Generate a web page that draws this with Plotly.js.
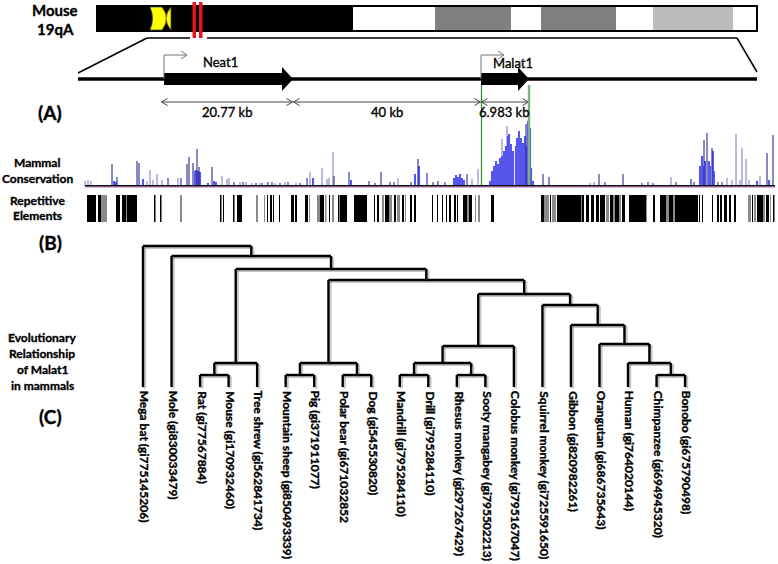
<!DOCTYPE html>
<html><head><meta charset="utf-8">
<script src="https://cdn.plot.ly/plotly-3.0.1.min.js"></script>
<style>html,body{margin:0;padding:0;background:#fff}
.annotation-text{stroke:#000;stroke-width:0.35px;paint-order:stroke}
</style>
</head><body><div id="chart" style="width:778px;height:564px"></div>
<script>
// ---------------- DATA ----------------
// chromosome 19 bands (schematic units)
const bandStart = [97, 353, 435, 511, 541, 616, 653, 733];
const bandEnd   = [353, 435, 511, 541, 616, 653, 733, 757];
const bandStain = ['gpos100','gneg','gpos75','gneg','gpos75','gneg','gpos33','gneg'];

// genes (schematic units)
const geneNames = ['Neat1', 'Malat1'];
const geneStart = [164, 481];
const geneEnd   = [293, 529];

// distances
const distLabels = ['20.77 kb', '40 kb', '6.983 kb'];
const distStart  = [161, 293, 481];
const distEnd    = [293, 481, 529];

// mammal conservation (position, score)
const consLightX = [85,88,91,147,150,153,157,162,178,222,227,229,240,246,252,260,275,285,296,310,322,327,329,333,398,472,478,502,507,590,594,671,727,732,736,740,742,746,749,760];
const consLightH = [5,6,5,5,16,6,12,6,8,10,7,8,4,4,3,3,3,4,3,14,18,7,8,34,8,7,17,47,60,3,4,9,8,6,52,6,38,27,6,10];
const consDarkX = [112,117,137,139,168,181,187,189,193,197,199,212,234,243,256,262,268,272,280,288,300,307,334,349,369,375,381,390,394,411,418,427,433,438,445,467,526,543,549,599,605,623,642,648,653,676,691,694,704,707,712,718,722,767,773];
const consDarkH = [22,9,25,23,8,8,22,29,23,37,19,19,4,4,3,3,4,4,3,4,3,8,10,14,5,3,14,4,4,4,27,13,4,5,4,12,62,12,9,12,4,12,3,4,3,4,7,4,46,53,38,4,4,33,51];
const consFillX = [114,116,143,195,196,198,200,208,214,216,313,351,415,419,454,456,458,460,462,464,490,492,494,496,498,500,502,504,506,508,509,511,513,516,517,519,521,523,525,527,528,530,531,533,700,702,703,705,709,710,713,714,757,769];
const consFillH = [5,4,7,15,16,15,14,3,5,4,8,6,12,20,8,11,9,12,8,6,5,15,20,25,22,28,30,35,40,50,52,42,35,40,48,55,48,43,50,40,65,58,18,5,20,30,20,25,25,20,35,15,5,6];

// repetitive elements
const repBlackStart = [87,98,116,122,127,154,160,220,223,233,237,267,270,273,279,291,295,305,320,329,338,340,354,374,377,385,394,402,410,414,432,437,442,446,449,454,457,463,469,491,541,550,557,581.5,586,591,596,600,610,615,622,629,653,660,669,675,679,699,702,712,717,720,724,729,734,752,757,766,773];
const repBlackEnd   = [96,101,120,126,137,155.5,161.5,221.5,224,234.5,242,268,272,274,280,294,297,308,324,330,339.5,347,367,375,379,389,396,404,412,416,433,438,443,447,451,456,458,467,472,494,544,551,581,584,589,594,599,605,613,619,625,646,655,666,673,679,698,700,703,713,719,722,727,731,736,753,763,769,774.5];
const repGreyStart = [101,126,180,256,264,309,317,325,332,382,389,397,405,467,475,478,544,552,606,613,619,646,666,673,748,754,763,770];
const repGreyEnd   = [107,127,182,258,265,310,320,326.5,334,384,392,400,406,469,476,480,549,556,609,615,621,647,669,675,751,756,765,771];

// phylogeny of Malat1
const speciesNames = ['Mega bat','Mole','Rat','Mouse','Tree shrew','Mountain sheep','Pig','Polar bear','Dog','Mandrill','Drill','Rhesus monkey','Sooty mangabey','Colobus monkey','Squirrel monkey','Gibbon','Orangutan','Human','Chimpanzee','Bonobo'];
const speciesGi = ['(gi775145206)','(gi830033479)','(gi77567884)','(gi170932460)','(gi562841734)','(gi850493339)','(gi371911077)','(gi671032852','(gi545530820)','(gi795284110)','(gi795284110)','(gi297267429)','(gi795502213)','(gi795167047)','(gi725591650)','(gi820982261)','(gi686735643)','(gi764020144)','(gi694945320)','(gi675790498)'];
const tree = {h:141, c:['Mega bat', {h:131, c:['Mole', {h:118, c:[
  {h:24, c:[{h:12, c:['Rat','Mouse']}, 'Tree shrew']},
  {h:107, c:[
    {h:24, c:[{h:12, c:['Mountain sheep','Pig']}, {h:12, c:['Polar bear','Dog']}]},
    {h:93, c:[
      {h:41, c:[{h:24, c:[{h:12, c:['Mandrill','Drill']}, {h:12, c:['Rhesus monkey','Sooty mangabey']}]}, 'Colobus monkey']},
      {h:82, c:['Squirrel monkey', {h:62, c:['Gibbon', {h:43, c:['Orangutan', {h:24, c:['Human', {h:12, c:['Chimpanzee','Bonobo']}]}]}]}]}
    ]}
  ]}
]}]}]};

// ---------------- BUILD ----------------
const W = 778, H = 564;
const FONT = 'Lato, Liberation Sans, Arial, sans-serif';
const stainColor = {gpos100:'#000000', gneg:'#ffffff', gpos75:'#808080', gpos33:'#bcbcbc'};
const dom = (top, bottom) => [1 - bottom / H, 1 - top / H];

const shapes = [];
const ann = [];
function seg(x0,y0,x1,y1,color,width){shapes.push({type:'line',xref:'x',yref:'y',x0,y0,x1,y1,line:{color,width}});}
function txt(x,y,text,size,bold,extra){ann.push(Object.assign({xref:'x',yref:'y',x,y,text:bold?'<b>'+text+'</b>':text,showarrow:false,font:{family:FONT,size,color:'#000'},xanchor:'center',yanchor:'middle'},extra||{}));}

// chromosome bands
bandStart.forEach((s,i)=>{
  shapes.push({type:'rect',xref:'x',yref:'y',x0:s,x1:bandEnd[i],y0:6,y1:31,fillcolor:stainColor[bandStain[i]],line:{width:0}});
});
shapes.push({type:'rect',xref:'x',yref:'y',x0:bandStart[0],x1:bandEnd[bandEnd.length-1],y0:6,y1:31,line:{color:'#000',width:2}});
// centromere
shapes.push({type:'path',xref:'x',yref:'y',path:'M150,7 Q155,18.5 150,30 L162,30 Q171,18.5 162,7 Z',fillcolor:'#ffff00',line:{color:'#444',width:0.8}});
shapes.push({type:'path',xref:'x',yref:'y',path:'M171,7 Q161,18.5 171,30 Z',fillcolor:'#ffff00',line:{color:'#444',width:0.8}});
// zoom lines
seg(78,73,147,38,'#000',1.5); seg(147,38,190,38,'#000',1.5);
seg(207,38,737,38,'#000',1.5); seg(737,38,757,72,'#000',1.5);
// locus marker (red)
shapes.push({type:'rect',xref:'x',yref:'y',x0:192.5,x1:196,y0:2,y1:38,fillcolor:'#e8141b',line:{width:0}});
shapes.push({type:'rect',xref:'x',yref:'y',x0:199,x1:202.5,y0:2,y1:38,fillcolor:'#e8141b',line:{width:0}});
// main locus line
seg(78,79,757,79,'#000',3.5);
// genes
geneNames.forEach((g,i)=>{
  const s = geneStart[i], e = geneEnd[i], hb = e - 11;
  shapes.push({type:'path',xref:'x',yref:'y',path:`M${s},73 L${hb},73 L${hb},67 L${e},79 L${hb},91 L${hb},85 L${s},85 Z`,fillcolor:'#000',line:{width:0}});
  // promoter arrow
  const tip = s + 23;
  shapes.push({type:'path',xref:'x',yref:'y',path:`M${s},79 L${s},55 L${tip},55 M${tip-6},51 L${tip},55 L${tip-6},59`,line:{color:'#777',width:1}});
});
txt(220,62,geneNames[0],13,false);
txt(513,63,geneNames[1],13,false);
// distances
distLabels.forEach((lab,i)=>{
  const s = distStart[i] + 0.5, e = distEnd[i] - 0.5;
  shapes.push({type:'path',xref:'x',yref:'y',path:`M${s},102 L${e},102 M${s+6},98.5 L${s},102 L${s+6},105.5 M${e-6},98.5 L${e},102 L${e-6},105.5`,line:{color:'#444',width:1}});
  const cx = (distStart[i]+distEnd[i])/2 + (i===2?-1:0);
  txt(cx,112,lab,13,false);
});
// green boundaries of Malat1
seg(481.5,85,481.5,186,'#2f8a2f',1.2);
seg(529,85,529,186,'#7bb27b',2.4);
// conservation baseline
seg(85,187,775,187,'#b040b0',0.8);
seg(85,185.8,775,185.8,'#111',1.6);

// labels
txt(55,10,'Mouse',15,true); txt(55,29,'19qA',15,true);
txt(50,112,'(A)',19,true);
txt(37,162,'Mammal',12,true); txt(37,178,'Conservation',12,true);
txt(37,200,'Repetitive',12,true); txt(37,215,'Elements',12,true);
txt(50,242,'(B)',19,true);
txt(42,337,'Evolutionary',12,true); txt(42,353,'Relationship',12,true);
txt(42,369,'of Malat1',12,true); txt(42,385,'in mammals',12,true);
txt(50,416,'(C)',19,true);

// traces
const traces = [];
const barT = (x,y,w,color,ya) => ({type:'bar',x,y,width:Array.isArray(w)?w:x.map(()=>w),marker:{color,line:{width:0}},xaxis:'x',yaxis:ya,hoverinfo:'skip',showlegend:false});
traces.push(barT(consLightX,consLightH,1.6,'#a9a9d6','y2'));
traces.push(barT(consFillX,consFillH,2.1,'#5656ee','y2'));
traces.push(barT(consDarkX,consDarkH,1.1,'#2a2a90','y2'));

const mid = (a,b)=>a.map((s,i)=>(s+b[i])/2), wid=(a,b)=>a.map((s,i)=>b[i]-s);
traces.push(barT(mid(repGreyStart,repGreyEnd),repGreyStart.map(()=>1),wid(repGreyStart,repGreyEnd),'#8a8a8a','y3'));
traces.push(barT(mid(repBlackStart,repBlackEnd),repBlackStart.map(()=>1),wid(repBlackStart,repBlackEnd),'#000000','y3'));

// tree
const tx = [], ty = [];
function lay(node){
  if (typeof node === 'string') return {x: speciesNames.indexOf(node), h: 0};
  const kids = node.c.map(lay);
  kids.forEach(k=>{tx.push(k.x,k.x,null); ty.push(k.h,node.h,null);});
  tx.push(kids[0].x, kids[kids.length-1].x, null); ty.push(node.h,node.h,null);
  return {x:(kids[0].x+kids[kids.length-1].x)/2, h:node.h};
}
lay(tree);
traces.push({type:'scatter',mode:'lines',x:tx.map(v=>v===null?null:v+0.06),y:ty.map(v=>v===null?null:v-1.5),line:{color:'rgba(0,0,0,0.22)',width:3},xaxis:'x2',yaxis:'y4',hoverinfo:'skip',showlegend:false,connectgaps:false});
traces.push({type:'scatter',mode:'lines',x:tx,y:ty,line:{color:'#000',width:2.4},xaxis:'x2',yaxis:'y4',hoverinfo:'skip',showlegend:false,connectgaps:false});

speciesNames.forEach((n,i)=>{
  ann.push({xref:'x2',yref:'y4',x:i+0.08,y:-2,text:'<b>'+n+' '+speciesGi[i]+'</b>',textangle:90,showarrow:false,xanchor:'center',yanchor:'top',font:{family:FONT,size:12,color:'#000'}});
});

const leafPx0 = 143, leafStep = 28.53, leafBase = 387;
const layout = {
  width:W, height:H, margin:{l:0,r:0,t:0,b:0},
  paper_bgcolor:'#fff', plot_bgcolor:'rgba(0,0,0,0)',
  barmode:'overlay', showlegend:false,
  xaxis:{range:[0,W],domain:[0,1],visible:false,fixedrange:true},
  yaxis:{range:[H,0],domain:[0,1],visible:false,fixedrange:true},
  yaxis2:{range:[0,66],domain:dom(120,186),visible:false,anchor:'x',fixedrange:true},
  yaxis3:{range:[0,1],domain:dom(195,222),visible:false,anchor:'x',fixedrange:true},
  xaxis2:{range:[-leafPx0/leafStep,(W-leafPx0)/leafStep],domain:[0,1],visible:false,anchor:'y4',fixedrange:true},
  yaxis4:{range:[leafBase-H, leafBase],domain:[0,1],visible:false,anchor:'x2',fixedrange:true},
  shapes, annotations:ann
};
Plotly.newPlot('chart', traces, layout, {staticPlot:true, displayModeBar:false});
</script></body></html>
